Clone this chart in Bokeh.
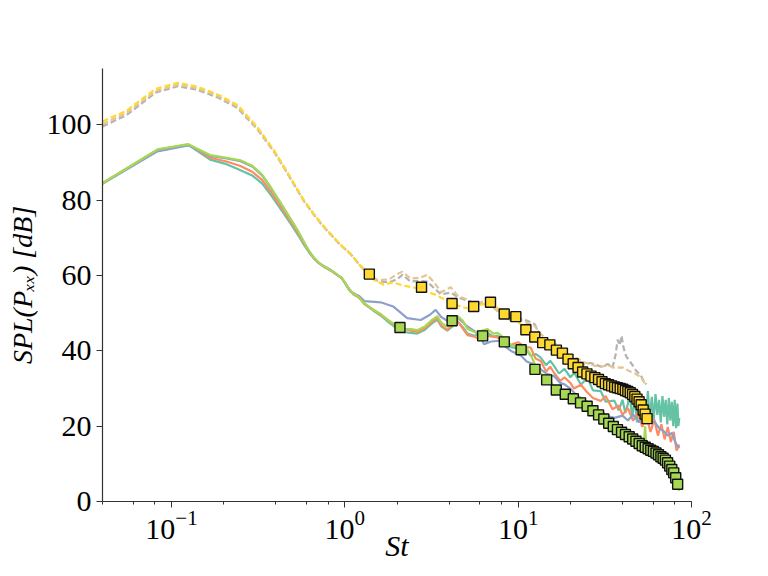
from bokeh.plotting import figure
from bokeh.models import LogTicker, SingleIntervalTicker
from bokeh.embed import file_html
from bokeh.resources import INLINE

# ---------------- data ----------------
solid_st_head = [0.04, 0.083, 0.125, 0.167, 0.208, 0.25, 0.292, 0.333, 0.375, 0.417, 0.458, 0.5,
                 0.542, 0.583, 0.625, 0.667, 0.708, 0.75, 0.792, 0.833, 0.875, 0.917, 0.958, 1.0,
                 1.042, 1.083, 1.125, 1.167, 1.21]
green_head = [84.5, 93.5, 94.9, 92.0, 91.3, 90.6, 89.2, 86.8, 83.4, 80.0, 77.0, 74.2, 71.5, 68.8,
              66.4, 64.6, 63.4, 62.6, 62.0, 61.4, 60.7, 60.0, 59.5, 58.2, 56.8, 55.8, 55.1, 54.7, 54.2]
teal_head = [84.5, 93.4, 94.7, 90.8, 89.6, 88.0, 86.6, 84.5, 81.4, 78.3, 75.6, 73.0, 70.5, 68.1,
             66.0, 64.4, 63.3, 62.5, 61.9, 61.3, 60.6, 60.0, 59.4, 58.1, 56.7, 55.7, 55.0, 54.6, 54.1]
orange_head = [84.5, 93.4, 94.8, 91.3, 90.3, 89.1, 87.6, 85.4, 82.2, 79.0, 76.2, 73.5, 70.9, 68.4,
               66.2, 64.5, 63.3, 62.5, 61.9, 61.3, 60.6, 60.0, 59.4, 58.1, 56.7, 55.7, 55.0, 54.6, 54.1]
blue_head = [84.4, 93.0, 94.6, 91.8, 91.1, 90.4, 89.0, 86.6, 83.2, 79.9, 76.9, 74.1, 71.4, 68.7,
             66.3, 64.6, 63.4, 62.6, 62.0, 61.4, 60.7, 60.0, 59.4, 58.2, 56.9, 55.9, 55.3, 54.9, 54.6]

green_tail_st = [1.3, 1.45, 1.61, 1.8, 2.0, 2.2, 2.4, 2.62, 2.9, 3.2, 3.42, 3.6, 3.9, 4.2, 4.46, 4.8,
                 5.1, 5.6, 6.0, 6.66, 7.2, 7.6, 8.3, 9.1, 10.0, 11.0, 11.8, 12.6, 13.5, 14.5, 16.0,
                 18.0, 20.0, 23.0, 26.0, 29.0, 33.0, 38.0, 43.0, 48.0, 52.0, 53.0, 54.0, 55.0, 60.0,
                 65.0, 70.0, 75.0, 80.0, 85.0]
green_tail = [52.6, 51.0, 49.8, 48.0, 46.6, 45.8, 45.8, 45.5, 46.5, 48.3, 49.2, 47.5, 46.4, 47.8,
              49.3, 48.0, 45.8, 45.0, 45.2, 45.8, 44.6, 44.8, 43.4, 41.5, 41.0, 41.2, 39.0, 36.0,
              34.0, 32.8, 30.8, 29.0, 27.8, 26.0, 24.6, 23.0, 20.8, 19.0, 17.5, 16.0, 15.0, 14.5,
              20.0, 14.0, 13.0, 12.0, 10.8, 9.0, 6.5, 2.8]

teal_tail_st = [1.3, 1.45, 1.61, 1.8, 2.0, 2.2, 2.4, 2.62, 2.9, 3.2, 3.42, 3.6, 3.9, 4.2, 4.46, 4.8,
                5.1, 5.6, 6.0, 6.66, 7.2, 7.6, 8.3, 9.1, 10.0, 10.8, 11.8, 12.6, 13.5, 14.5, 15.3,
                16.1, 17.2, 18.5, 20.0, 21.1, 23.0, 25.1, 27.0, 30.0, 32.0, 35.9, 38.0, 40.0, 41.5,
                42.9, 44.0, 45.5, 47.0, 48.5, 50.0, 51.5, 53.0, 54.5, 56.0, 57.5, 59.0, 60.5, 62.0,
                63.5, 65.0, 66.5, 68.0, 69.5, 71.0, 72.5, 74.0, 75.5, 77.0, 78.5, 80.0, 81.5, 83.0,
                84.0, 85.0]
teal_tail = [52.4, 50.8, 49.4, 47.5, 46.0, 45.0, 44.8, 44.6, 45.6, 47.4, 48.3, 46.5, 45.4, 46.6,
             47.8, 46.3, 44.6, 44.0, 44.5, 44.8, 43.8, 44.0, 42.6, 41.0, 40.6, 41.2, 38.7, 39.2,
             38.2, 36.2, 37.4, 36.0, 34.0, 35.2, 33.0, 34.2, 31.0, 32.9, 29.5, 29.3, 26.5, 26.8,
             24.2, 27.0, 23.5, 25.8, 28.5, 22.0, 27.5, 21.0, 28.8, 22.5, 27.0, 20.5, 29.3, 22.0,
             27.8, 21.5, 28.5, 23.0, 27.0, 21.0, 28.0, 22.5, 27.0, 20.5, 27.5, 21.5, 26.5, 20.0,
             27.0, 19.5, 26.0, 20.0, 22.2]

orange_tail_st = [1.3, 1.61, 2.0, 2.62, 2.9, 3.2, 3.42, 3.6, 3.9, 4.46, 5.1, 5.6, 6.0, 6.66, 7.6,
                  8.3, 9.1, 10.0, 11.0, 11.8, 12.6, 13.5, 14.5, 15.3, 16.1, 17.5, 18.5, 20.0, 21.0,
                  23.0, 25.0, 27.0, 30.0, 32.0, 35.0, 38.0, 40.0, 43.0, 46.0, 49.0, 52.0, 55.0,
                  58.0, 61.0, 64.0, 67.0, 70.0, 73.0, 76.0, 79.0, 82.0, 85.0]
orange_tail = [52.5, 49.6, 46.3, 45.0, 46.0, 47.8, 48.7, 46.8, 45.6, 48.0, 44.2, 43.8, 43.0, 44.0,
               43.6, 42.0, 41.6, 42.3, 41.0, 40.9, 38.0, 37.3, 34.5, 35.8, 34.2, 32.0, 33.0, 31.5,
               30.0, 31.0, 29.0, 27.5, 26.7, 28.0, 24.5, 25.5, 23.0, 24.8, 21.5, 23.5, 19.8, 22.5,
               18.5, 21.8, 17.5, 20.5, 16.5, 19.8, 15.8, 18.5, 13.5, 15.1]

blue_tail_st = [1.3, 1.61, 1.9, 2.29, 2.74, 3.1, 3.34, 3.6, 3.9, 4.46, 5.0, 5.57, 6.0, 6.36, 7.0,
                7.93, 8.5, 9.1, 10.4, 11.2, 12.4, 13.5, 14.5, 16.1, 17.5, 18.5, 20.0, 21.5, 23.0,
                25.0, 27.0, 30.0, 33.0, 36.0, 40.0, 43.0, 46.0, 50.0, 53.0, 57.0, 61.0, 65.0, 69.0,
                73.0, 77.0, 81.0, 85.0]
blue_tail = [53.2, 52.9, 51.8, 48.7, 48.2, 49.6, 50.9, 49.0, 48.0, 48.9, 46.8, 45.3, 44.0, 41.8,
             42.5, 42.7, 41.0, 40.0, 38.7, 37.2, 36.4, 35.1, 34.0, 33.3, 31.5, 31.1, 30.0, 28.4,
             27.5, 26.5, 24.8, 24.0, 22.6, 22.2, 22.8, 21.5, 23.1, 21.0, 22.5, 20.8, 21.3, 19.5,
             18.7, 17.5, 18.2, 15.5, 14.2]

dashed_st_head = [0.04, 0.055, 0.081, 0.109, 0.14, 0.183, 0.239, 0.311, 0.389, 0.45, 0.507, 0.58,
                  0.662, 0.74, 0.826, 0.94, 1.08, 1.23]
yellow_head = [100.9, 103.8, 109.6, 111.2, 110.2, 108.2, 105.4, 99.6, 93.4, 88.6, 84.6, 80.0,
               76.4, 73.6, 71.1, 68.3, 65.8, 62.6]
grey_head = [99.6, 102.6, 108.6, 110.3, 109.4, 107.4, 104.6, 99.0, 93.0, 88.3, 84.3, 79.8,
             76.2, 73.4, 71.0, 68.2, 65.7, 62.6]
tan_head = [100.2, 103.2, 109.0, 110.7, 109.8, 107.8, 105.0, 99.3, 93.2, 88.5, 84.5, 79.9,
            76.3, 73.5, 71.0, 68.2, 65.7, 62.6]

yellow_tail_st = [1.38, 1.5, 1.68, 1.9, 2.15, 2.4, 2.74, 3.0, 3.3, 3.57, 4.0, 4.5, 5.0, 5.53, 6.0,
                  6.89, 7.5, 8.3, 9.6, 11.0, 12.4, 13.6, 15.3, 16.5, 18.0, 19.5, 20.8, 22.2, 24.8,
                  27.7, 31.0, 34.5, 38.2, 41.9, 45.8, 49.3, 52.8, 55.4]
yellow_tail = [60.0, 58.6, 57.6, 58.2, 57.4, 57.0, 56.4, 55.6, 55.0, 54.2, 53.2, 52.0, 51.4, 51.2,
               52.2, 52.8, 51.6, 49.8, 48.6, 45.8, 43.8, 42.4, 41.4, 40.2, 39.2, 37.8, 36.8, 35.6,
               34.0, 32.8, 31.6, 30.8, 30.2, 29.6, 28.6, 26.8, 24.4, 22.0]

tan_tail_st = [1.38, 1.55, 1.8, 2.0, 2.15, 2.4, 2.7, 2.99, 3.3, 3.6, 4.08, 4.5, 5.0, 5.5, 6.2, 6.9,
               7.6, 8.3, 9.1, 10.0, 11.3, 12.5, 13.5, 15.0, 16.5, 18.0, 20.0, 22.0, 24.0, 26.0,
               28.0, 30.0, 33.0, 36.0, 40.0, 44.0, 48.0, 51.0, 55.0]
tan_tail = [60.2, 58.8, 59.0, 60.4, 61.0, 59.2, 59.4, 60.2, 58.0, 55.6, 56.9, 54.5, 53.8, 52.5,
            53.0, 52.5, 50.5, 50.2, 49.0, 48.6, 47.4, 46.6, 44.5, 42.5, 41.2, 40.5, 38.5, 38.0,
            37.0, 36.5, 36.0, 35.8, 36.2, 35.5, 35.6, 34.6, 33.8, 33.0, 30.7]

grey_tail_st = [1.38, 1.55, 1.8, 2.0, 2.15, 2.4, 2.7, 2.99, 3.3, 3.6, 4.08, 4.5, 5.0, 5.5, 6.2,
                6.9, 7.6, 8.3, 9.1, 10.0, 11.3, 12.5, 13.5, 15.0, 16.5, 18.0, 20.0, 22.0, 24.0,
                26.0, 28.0, 30.0, 33.0, 35.0, 36.5, 37.5, 38.5, 39.5, 40.5, 42.0, 44.0, 46.0,
                48.0, 51.0, 53.0, 55.0]
grey_tail = [60.0, 58.6, 58.2, 59.0, 60.2, 58.4, 58.6, 58.4, 56.5, 55.0, 55.5, 54.2, 53.5, 52.8,
             52.5, 51.8, 50.8, 49.5, 48.0, 48.8, 48.0, 47.0, 43.6, 42.8, 41.8, 40.0, 38.2, 37.4,
             36.4, 36.8, 36.4, 35.8, 36.5, 35.5, 39.0, 43.0, 41.5, 44.0, 41.0, 38.5, 37.3, 36.0,
             34.7, 33.5, 32.0, 31.1]

yellow_sq_st = [1.385, 2.77, 4.155, 5.54, 6.925, 8.31, 9.695, 11.08, 12.465, 13.85, 15.235, 16.62,
                18.005, 19.39, 20.775, 22.16, 23.545, 24.93, 26.315, 27.7, 29.085, 30.47, 31.855,
                33.24, 34.625, 36.01, 37.395, 38.78, 40.165, 41.55, 42.935, 44.32, 45.705, 47.09,
                48.475, 49.86, 51.245, 52.63, 54.015, 55.4]
yellow_sq = [60.4, 56.9, 52.6, 51.8, 52.9, 49.8, 49.1, 45.6, 43.7, 42.2, 41.6, 40.2, 39.4, 37.8,
             36.6, 35.6, 34.4, 33.9, 33.3, 32.9, 32.4, 31.8, 31.3, 31.0, 30.7, 30.4, 30.2, 30.0,
             29.8, 29.5, 29.2, 28.9, 28.4, 27.9, 27.2, 26.5, 25.7, 24.3, 23.2, 22.0]

green_sq_st = [2.08, 4.16, 6.24, 8.32, 10.4, 12.5, 14.6, 16.6, 18.7, 20.8, 22.9, 25.0, 27.0, 29.1,
               31.2, 33.3, 35.4, 37.4, 39.5, 41.6, 43.7, 45.8, 47.8, 49.9, 52.0, 54.1, 56.2, 58.2,
               60.3, 62.4, 64.5, 66.6, 68.6, 70.7, 72.8, 74.9, 77.0, 79.0, 81.1, 83.2]
green_sq = [46.2, 48.0, 44.0, 42.4, 40.3, 35.1, 32.3, 29.6, 28.5, 27.3, 26.2, 25.3, 24.1, 23.0,
            21.9, 20.8, 19.9, 19.1, 18.4, 17.8, 17.2, 16.6, 16.0, 15.4, 14.8, 14.4, 14.0, 13.6,
            13.3, 12.9, 12.4, 11.9, 11.5, 11.0, 10.3, 9.4, 8.5, 7.6, 6.3, 4.6]

x_label = "St"
y_label = "SPL(P\u2093\u2093) [dB]"

# ---------------- colours ----------------
C_TEAL, C_ORANGE, C_BLUE, C_GREEN = "#66c2a5", "#fc8d62", "#8da0cb", "#a6d854"
C_YELLOW, C_TAN, C_GREY = "#ffd92f", "#e5c494", "#b3b3b3"
SERIF = "Liberation Serif"

p = figure(width=760, height=568, x_axis_type="log", x_range=(0.04, 100), y_range=(0, 115),
           output_backend="svg", toolbar_location=None,
           min_border_left=102, min_border_right=69, min_border_top=68, min_border_bottom=67)
p.outline_line_color = None
p.grid.visible = False
p.background_fill_color = "white"
p.border_fill_color = "white"

# dashed lines
for st_h, v_h, st_t, v_t, col in [(dashed_st_head, grey_head, grey_tail_st, grey_tail, C_GREY),
                                  (dashed_st_head, tan_head, tan_tail_st, tan_tail, C_TAN),
                                  (dashed_st_head, yellow_head, yellow_tail_st, yellow_tail, C_YELLOW)]:
    p.line(st_h + st_t, v_h + v_t, line_color=col, line_width=2.2, line_dash="6 3")

# solid lines
for st_t, v_h, v_t, col in [(teal_tail_st, teal_head, teal_tail, C_TEAL),
                            (orange_tail_st, orange_head, orange_tail, C_ORANGE),
                            (blue_tail_st, blue_head, blue_tail, C_BLUE),
                            (green_tail_st, green_head, green_tail, C_GREEN)]:
    p.line(solid_st_head + st_t, v_h + v_t, line_color=col, line_width=2.2)

p.scatter(yellow_sq_st, yellow_sq, marker="square", size=10, fill_color=C_YELLOW,
          line_color="#111111", line_width=1.4)
p.scatter(green_sq_st, green_sq, marker="square", size=10, fill_color=C_GREEN,
          line_color="#111111", line_width=1.4)

# axes
p.xaxis.ticker = LogTicker(mantissas=[1], desired_num_ticks=4)
p.yaxis.ticker = SingleIntervalTicker(interval=20, num_minor_ticks=0)
for ax in (p.xaxis[0], p.yaxis[0]):
    ax.axis_line_color = "#333333"
    ax.axis_line_width = 1.2
    ax.major_tick_line_color = "#333333"
    ax.minor_tick_line_color = "#333333"
    ax.major_tick_out = 6
    ax.major_tick_in = 0
    ax.minor_tick_out = 3
    ax.minor_tick_in = 0
    ax.major_label_text_font = SERIF
    ax.major_label_text_font_size = "30px"
    ax.major_label_text_color = "black"
    ax.axis_label_text_font = SERIF
    ax.axis_label_text_font_style = "italic"
    ax.axis_label_text_color = "black"
p.xaxis.axis_label_text_font_size = "30px"
p.yaxis.axis_label_text_font_size = "28px"
p.yaxis.minor_tick_line_color = None
p.xaxis.axis_label = x_label
p.yaxis.axis_label = y_label
p.xaxis.major_label_standoff = 3
p.yaxis.major_label_standoff = 5
p.xaxis.axis_label_standoff = -13
p.yaxis.axis_label_standoff = 6

open("out.html", "w").write(file_html(p, INLINE))
